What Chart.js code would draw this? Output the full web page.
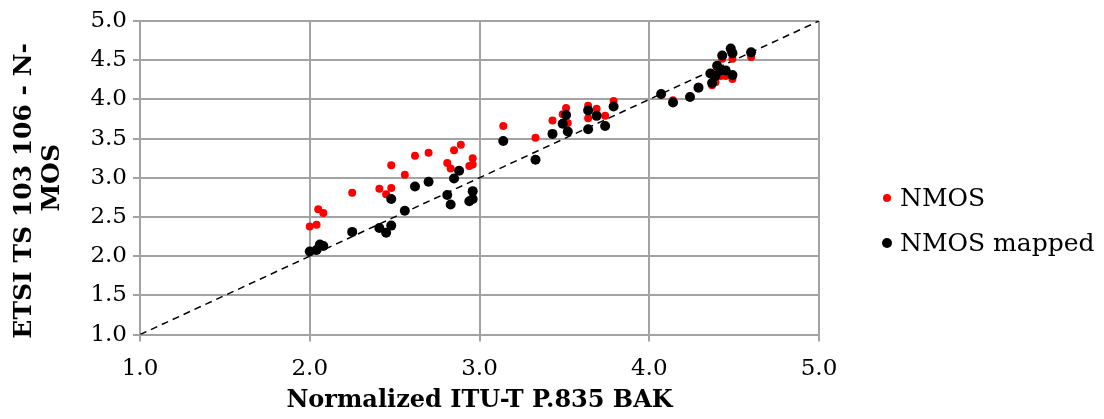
<!DOCTYPE html>
<html>
<head>
<meta charset="utf-8">
<title>NMOS vs BAK</title>
<script src="https://cdn.jsdelivr.net/npm/chart.js@4.4.1/dist/chart.umd.min.js"></script>
<style>
  html, body { margin: 0; padding: 0; background: #fff; }
  #wrap { width: 1104px; height: 419px; position: relative; }
</style>
</head>
<body>
<div id="wrap"><canvas id="scatter" width="1104" height="419"></canvas></div>
<script>
// Raw NMOS scores (red) against normalized P.835 BAK
const nmosX = [2.00, 2.04, 2.05, 2.08, 2.25, 2.41, 2.45, 2.48, 2.48, 2.56, 2.62, 2.70, 2.81, 2.83, 2.85, 2.89, 2.94, 2.96, 2.96,
               3.14, 3.33, 3.43, 3.49, 3.51, 3.52, 3.64, 3.64, 3.69, 3.74, 3.79,
               4.07, 4.14, 4.24, 4.29, 4.37, 4.39, 4.40, 4.43, 4.45, 4.42, 4.48, 4.49, 4.49, 4.60];
const nmosY = [2.38, 2.40, 2.60, 2.55, 2.81, 2.86, 2.79, 2.87, 3.16, 3.04, 3.28, 3.32, 3.19, 3.12, 3.35, 3.42, 3.15, 3.25, 3.17,
               3.66, 3.51, 3.73, 3.81, 3.89, 3.70, 3.92, 3.76, 3.88, 3.79, 3.98,
               4.06, 3.99, 4.04, 4.16, 4.18, 4.22, 4.36, 4.52, 4.30, 4.30, 4.62, 4.52, 4.26, 4.54];

// NMOS after mapping (black)
const mappedX = [2.00, 2.04, 2.06, 2.08, 2.25, 2.41, 2.45, 2.48, 2.48, 2.56, 2.62, 2.70, 2.81, 2.83, 2.85, 2.88, 2.94, 2.96, 2.96,
                 3.14, 3.33, 3.43, 3.49, 3.51, 3.52, 3.64, 3.64, 3.69, 3.74, 3.79,
                 4.07, 4.14, 4.24, 4.29, 4.37, 4.39, 4.40, 4.43, 4.45, 4.36, 4.42, 4.48, 4.49, 4.49, 4.60];
const mappedY = [2.06, 2.08, 2.15, 2.13, 2.31, 2.36, 2.30, 2.39, 2.73, 2.58, 2.89, 2.95, 2.78, 2.66, 2.99, 3.09, 2.70, 2.83, 2.73,
                 3.47, 3.23, 3.56, 3.69, 3.80, 3.59, 3.86, 3.62, 3.79, 3.66, 3.91,
                 4.07, 3.96, 4.03, 4.15, 4.21, 4.30, 4.43, 4.56, 4.37, 4.33, 4.37, 4.65, 4.59, 4.31, 4.60];

// y = x reference line
const diagonalX = [1, 5];
const diagonalY = [1, 5];

const seriesLabels = ['NMOS', 'NMOS mapped'];
const xTitle = 'Normalized ITU-T P.835 BAK';
// trailing spaces nudge the long first line down a little
const yTitle = ['ETSI TS 103 106 - N-   ', 'MOS'];

const toPoints = (xs, ys) => xs.map((x, i) => ({ x: x, y: ys[i] }));

const FONT = "'DejaVu Serif', serif";
const GRID = '#a3a3a3';

// Legend drawn to the right of the plot area
const sideLegend = {
    id: 'sideLegend',
    afterDraw(chart) {
        const ctx = chart.ctx;
        const dotX = 887;
        const rows = [198, 243];
        ctx.save();
        ctx.font = '25px ' + FONT;
        ctx.textBaseline = 'middle';
        seriesLabels.forEach((label, i) => {
            const ds = chart.data.datasets.find(d => d.label === label);
            ctx.beginPath();
            ctx.arc(dotX, rows[i], ds.pointRadius, 0, Math.PI * 2);
            ctx.fillStyle = ds.backgroundColor;
            ctx.fill();
            ctx.fillStyle = '#000';
            ctx.fillText(label, dotX + 13, rows[i] + 1);
        });
        ctx.restore();
    }
};

const ctx = document.getElementById('scatter').getContext('2d');
new Chart(ctx, {
    type: 'scatter',
    data: {
        datasets: [
            {
                label: seriesLabels[1],
                data: toPoints(mappedX, mappedY),
                backgroundColor: '#000000',
                borderWidth: 0,
                pointRadius: 5,
                order: 0
            },
            {
                label: seriesLabels[0],
                data: toPoints(nmosX, nmosY),
                backgroundColor: '#ff0000',
                borderWidth: 0,
                pointRadius: 4,
                order: 1
            },
            {
                label: 'diagonal',
                type: 'line',
                data: toPoints(diagonalX, diagonalY),
                borderColor: '#000000',
                borderWidth: 1.5,
                borderDash: [7, 5],
                pointRadius: 0,
                fill: false,
                order: 2
            }
        ]
    },
    options: {
        responsive: false,
        animation: false,
        devicePixelRatio: 1,
        layout: { padding: { left: 0, right: 285, top: 21, bottom: 4 } },
        plugins: {
            legend: { display: false },
            tooltip: { enabled: false }
        },
        scales: {
            x: {
                type: 'linear',
                min: 1,
                max: 5,
                ticks: {
                    stepSize: 1,
                    color: '#000',
                    font: { family: FONT, size: 23 },
                    padding: 14,
                    callback: v => v.toFixed(1)
                },
                grid: { color: GRID, lineWidth: 2, tickLength: 7, tickColor: GRID },
                border: { color: GRID, width: 2 },
                title: {
                    display: true,
                    text: xTitle,
                    color: '#000',
                    font: { family: FONT, size: 24, weight: 'bold' },
                    padding: { top: -11, bottom: 0 }
                }
            },
            y: {
                type: 'linear',
                min: 1,
                max: 5,
                afterFit: scale => { scale.width = 140; },
                ticks: {
                    stepSize: 0.5,
                    color: '#000',
                    font: { family: FONT, size: 23 },
                    padding: 6,
                    callback: v => v.toFixed(1)
                },
                grid: { color: GRID, lineWidth: 2, tickLength: 7, tickColor: GRID },
                border: { color: GRID, width: 2 },
                title: {
                    display: true,
                    text: yTitle,
                    color: '#000',
                    font: { family: FONT, size: 25, weight: 'bold', lineHeight: 1.1 },
                    padding: { top: 11, bottom: 0 }
                }
            }
        }
    },
    plugins: [sideLegend]
});
</script>
</body>
</html>
